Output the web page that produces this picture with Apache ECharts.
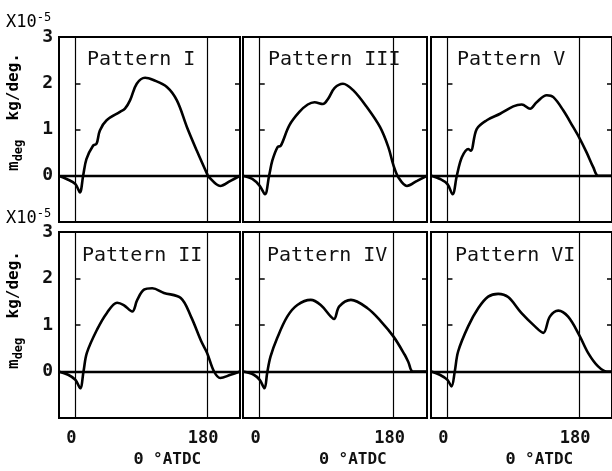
<!DOCTYPE html>
<html>
<head>
<meta charset="utf-8">
<script src="https://cdn.jsdelivr.net/npm/echarts@6/dist/echarts.min.js"></script>
<style>
  html, body { margin: 0; padding: 0; background: #fff; }
  #chart { width: 612px; height: 471px; }
</style>
</head>
<body>
<div id="chart"></div>
<script>
// crank angle (deg ATDC) and m_deg (x10^-5 kg/deg.)
var degI   = [-23, -12, 0, 6, 10.5, 15, 24, 28.8, 33.4, 42.6, 60.9, 67.7, 74.6, 83.8, 95.2, 106.6, 125, 138.7, 152.5, 166, 180, 182, 198, 212, 225];
var valI   = [0, -0.07, -0.18, -0.36, 0, 0.36, 0.65, 0.69, 0.98, 1.2, 1.38, 1.45, 1.63, 1.99, 2.12, 2.07, 1.92, 1.63, 1.05, 0.54, 0.04, -0.02, -0.22, -0.11, 0];

var degIII = [-23, -10, 0, 7, 12.6, 17, 24, 28.4, 39.8, 53.3, 64.6, 73.7, 85, 91.8, 100.8, 112, 125.6, 143.8, 161.9, 173, 180, 186.7, 198, 211.7, 225];
var valIII = [0, -0.07, -0.22, -0.4, 0, 0.33, 0.62, 0.65, 1.09, 1.38, 1.54, 1.59, 1.55, 1.66, 1.9, 1.99, 1.85, 1.49, 1.05, 0.62, 0.22, -0.04, -0.22, -0.11, 0];

var degV   = [-22, -10, 0, 7, 12.8, 19.7, 28.7, 31.9, 40, 53.8, 72, 90, 101.6, 113, 122, 135.8, 144.8, 158.5, 172, 180, 190.4, 199.5, 206.3, 225];
var valV   = [0, -0.07, -0.18, -0.4, 0, 0.4, 0.58, 0.54, 1.01, 1.2, 1.34, 1.5, 1.54, 1.45, 1.59, 1.74, 1.7, 1.41, 1.05, 0.83, 0.5, 0.18, 0, 0];

var degII  = [-23, -10, 0, 6.5, 11, 15.6, 29.5, 43, 57, 66, 77.6, 84.5, 93.7, 105, 121, 144, 158, 172, 180, 189.5, 198, 212, 225];
var valII  = [0, -0.07, -0.18, -0.36, 0, 0.4, 0.9, 1.26, 1.48, 1.43, 1.29, 1.54, 1.76, 1.79, 1.69, 1.58, 1.18, 0.65, 0.4, 0, -0.14, -0.07, 0];

var degIV  = [-22, -8, 0, 6.4, 10, 14.5, 23.5, 37, 50.6, 68.6, 82, 95.7, 100, 107, 122.7, 145, 163, 180, 195, 200, 206, 225];
var valIV  = [0, -0.07, -0.18, -0.36, -0.03, 0.32, 0.72, 1.18, 1.43, 1.54, 1.43, 1.18, 1.13, 1.4, 1.54, 1.36, 1.08, 0.75, 0.36, 0.2, 0, 0];

var degVI  = [-22, -10.5, 0, 5.5, 10, 14.6, 28.3, 42, 55.7, 69.4, 83, 101, 119.6, 131, 140, 151.6, 165, 180, 192.7, 206, 218, 225];
var valVI  = [0, -0.07, -0.18, -0.32, 0, 0.43, 0.97, 1.36, 1.61, 1.67, 1.6, 1.26, 0.97, 0.83, 1.18, 1.31, 1.18, 0.79, 0.39, 0.11, 0, 0];

var titles   = ['Pattern I', 'Pattern III', 'Pattern V', 'Pattern II', 'Pattern IV', 'Pattern VI'];
var degs     = [degI, degIII, degV, degII, degIV, degVI];
var vals     = [valI, valIII, valV, valII, valIV, valVI];
var yTicks   = [0, 1, 2, 3];
var xTicks   = [0, 180];
var refLines = [0, 180];   // vertical lines at TDC and 180

// panel layout
var colLeft  = [59, 243, 431];
var colWidth = [181, 184, 183];
var rowTop   = [37, 232];
var rowH     = [185, 186];
var titlePos = [[87, 50], [268, 50], [457, 50], [82, 246], [267, 246], [455, 246]];

var mono = 'DejaVu Sans Mono';

function zip(a, b) {
    var out = [];
    for (var i = 0; i < a.length; i++) out.push([a[i], b[i]]);
    return out;
}

var myChart = echarts.init(document.getElementById('chart'));

var grids = [], xAxes = [], yAxes = [], series = [], title = [];

for (var p = 0; p < 6; p++) {
    var row = Math.floor(p / 3), col = p % 3;
    grids.push({
        left: colLeft[col], top: rowTop[row], width: colWidth[col], height: rowH[row],
        show: true, borderColor: '#000', borderWidth: 2, backgroundColor: 'transparent'
    });
    xAxes.push({
        gridIndex: p, type: 'value', min: -22.5, max: 225,
        axisLine: {show: false}, axisTick: {show: false}, splitLine: {show: false},
        axisLabel: {
            show: row == 1, customValues: xTicks, margin: 12, padding: [0, 8, 0, 0],
            fontFamily: mono, fontWeight: 'bold', fontSize: 17, color: '#111'
        },
        name: row == 1 ? 'Θ °ATDC' : '',
        nameLocation: 'middle', nameGap: 34,
        nameTextStyle: {
            fontFamily: mono, fontWeight: 'bold', fontSize: 16, color: '#111',
            padding: [0, 0, 0, 36]
        }
    });
    // left axis: labels on first column only, inward ticks
    yAxes.push({
        gridIndex: p, type: 'value', min: -1, max: 3, position: 'left',
        axisLine: {show: false}, splitLine: {show: false},
        axisTick: {show: true, inside: true, length: 5, customValues: [1, 2], lineStyle: {color: '#000', width: 1.5}},
        axisLabel: {
            show: col == 0, customValues: yTicks, margin: 6, padding: [6, 0, 0, 0],
            fontFamily: mono, fontWeight: 'bold', fontSize: 18, color: '#111'
        }
    });
    // right axis: inward ticks only
    yAxes.push({
        gridIndex: p, type: 'value', min: -1, max: 3, position: 'right',
        axisLine: {show: false}, splitLine: {show: false}, axisLabel: {show: false},
        axisTick: {show: true, inside: true, length: 5, customValues: [1, 2], lineStyle: {color: '#000', width: 1.5}}
    });
    var marks = [{yAxis: 0, lineStyle: {width: 2.4, type: 'solid', color: '#000'}}];
    for (var k = 0; k < refLines.length; k++) {
        marks.push({xAxis: refLines[k], lineStyle: {width: 1.2, type: 'solid', color: '#000'}});
    }
    series.push({
        type: 'line', xAxisIndex: p, yAxisIndex: p * 2,
        data: zip(degs[p], vals[p]),
        smooth: 0.35, showSymbol: false, symbol: 'none',
        lineStyle: {color: '#000', width: 2.6},
        markLine: {silent: true, symbol: 'none', label: {show: false}, data: marks}
    });
    title.push({
        text: titles[p], left: titlePos[p][0], top: titlePos[p][1], padding: 0,
        textStyle: {fontFamily: mono, fontWeight: 'normal', fontSize: 20, color: '#111'}
    });
}

var expRich = {
    a: {fontFamily: mono, fontSize: 17, color: '#111'},
    b: {fontFamily: mono, fontSize: 12, color: '#111', padding: [0, 0, 10, 0]}
};
var nameRich = {
    m: {fontFamily: mono, fontWeight: 'bold', fontSize: 16, color: '#111'},
    s: {fontFamily: mono, fontWeight: 'bold', fontSize: 12, color: '#111', padding: [10, 0, 0, 0]},
    t: {fontFamily: mono, fontWeight: 'bold', fontSize: 16, color: '#111'}
};
var yName = '{m|m}{s|deg}{t|  kg/deg.}';

option = {
    backgroundColor: '#fff',
    animation: false,
    title: title,
    grid: grids,
    xAxis: xAxes,
    yAxis: yAxes,
    series: series,
    graphic: [
        {type: 'text', x: 6, y: 12, style: {text: '{a|X10}{b|-5}', rich: expRich}},
        {type: 'text', x: 6, y: 208, style: {text: '{a|X10}{b|-5}', rich: expRich}},
        {type: 'text', x: 14, y: 112, rotation: Math.PI / 2,
            style: {text: yName, rich: nameRich, align: 'center', verticalAlign: 'middle'}},
        {type: 'text', x: 14, y: 310, rotation: Math.PI / 2,
            style: {text: yName, rich: nameRich, align: 'center', verticalAlign: 'middle'}}
    ]
};
myChart.setOption(option);
</script>
</body>
</html>
